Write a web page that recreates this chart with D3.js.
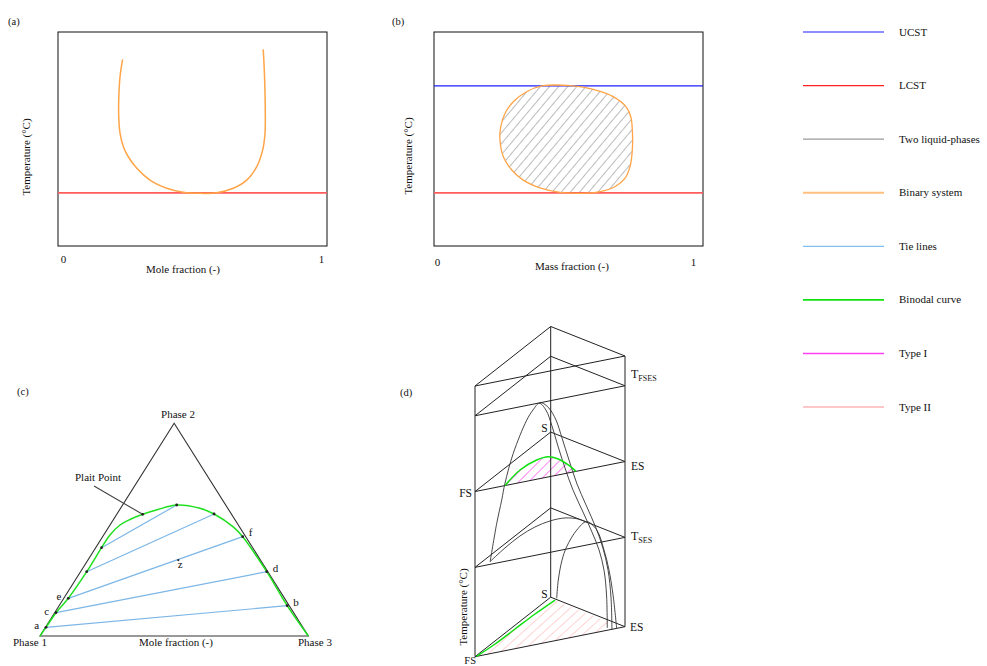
<!DOCTYPE html>
<html><head><meta charset="utf-8">
<script src="https://cdn.jsdelivr.net/npm/d3@7"></script>
<style>
body{margin:0;background:#fff;}
svg{display:block;}
text{font-family:"Liberation Serif","Times New Roman",serif;fill:#111;}
</style>
</head><body>
<svg id="chart" width="987" height="666"></svg>
<script>
// ---------------- DATA ----------------
// (a) binary system with LCST (mole fraction vs temperature)
const tickValues = [0, 1];
const tickLabels = ["0", "1"];
const lcstA = 24.8;
const binaryX = [0.231,0.221,0.216,0.216,0.221,0.234,0.253,0.286,0.337,0.402,0.466,0.531,0.596,0.660,0.712,0.751,0.774,0.783,0.784,0.782,0.779,0.776];
const binaryT = [87.2,79.1,68.2,60.4,52.7,46.4,41.7,36.3,30.8,27.0,25.1,24.6,24.9,27.0,30.8,37.1,44.9,52.7,63.6,76.0,85.4,91.9];

// (b) closed-loop miscibility gap (mass fraction vs temperature)
const ucstB = 74.8;
const lcstB = 24.8;
const loopX = [0.409,0.532,0.610,0.688,0.738,0.757,0.763,0.763,0.754,0.734,0.695,0.637,0.559,0.480,0.402,0.337,0.292,0.259,0.246,0.249,0.266,0.298,0.350];
const loopT = [74.8,74.8,73.2,69.8,65.1,60.4,54.2,44.9,37.1,31.6,27.7,25.4,24.6,25.1,27.2,30.8,35.5,41.7,49.5,55.7,62.0,67.4,72.1];

// legend
const legendLabels = ["UCST","LCST","Two liquid-phases","Binary system","Tie lines","Binodal curve","Type I","Type II"];
const legendColors = ["#1f1fff","#ff2020","#9a9a9a","#ffbf80","#80bdf0","#10e010","#ff40f0","#ffc8c8"];
const legendWidths = [1.2,1.2,1.2,2,1.2,1.6,1.6,2];

// (c) ternary diagram: a = fraction Phase 2, b = fraction Phase 3
const binodalA = [0,0.0409,0.1095,0.1772,0.3023,0.4151,0.4748,0.5219,0.5477,0.5722,0.5947,0.6159,0.6004,0.5736,0.5139,0.4669,0.3023,0.1425,0];
const binodalB = [0,0.002,0.005,0.017,0.023,0.022,0.0235,0.0373,0.0616,0.0967,0.1424,0.2015,0.296,0.362,0.462,0.522,0.694,0.850,1];
const tieLeftA  = [0.0409,0.1095,0.1772,0.3023,0.4151];
const tieLeftB  = [0.002,0.005,0.017,0.023,0.022];
const tieRightA = [0.1425,0.3023,0.4669,0.5736,0.6159];
const tieRightB = [0.850,0.694,0.522,0.362,0.2015];
const tieLeftLabels  = ["a","c","e","",""];
const tieRightLabels = ["b","d","f","",""];
const plaitPoint = [0.5722, 0.0967];
const zPoint = [0.357, 0.337];
const vertexLabels = ["Phase 1","Phase 2","Phase 3"];

// (d) temperature prism: a = fraction S, b = fraction ES, T = temperature
const prismLevelsT = [0, 33, 61, 89, 100];
const levelTSES = 33, levelES = 61, levelTFSES = 89;
const leftBranchB = [0.0,0.044,0.077,0.099,0.154,0.244,0.286,0.328];
const leftBranchT = [30.7,44.4,52.6,58.6,69.0,80.3,83.6,85.6];
const branchAB = [0.328,0.372,0.412,0.452,0.499,0.552,0.619,0.679,0.726,0.759,0.776,0.781];
const branchAT = [85.6,82.6,76.3,68.4,59.8,51.1,42.2,34.1,27.0,19.2,9.8,-2.4];
const branchBB = [0.328,0.344,0.392,0.439,0.479,0.526,0.579,0.639,0.706,0.752,0.786,0.806,0.812];
const branchBT = [85.6,85.6,83.1,78.2,71.1,62.4,53.0,44.6,35.3,27.4,18.9,8.4,-3.5];
const parabolaDepth = 0.2;
const archB = [0.0905,0.101,0.126,0.157,0.224,0.290,0.357,0.406,0.439,0.466,0.490];
const archT = [0.8,7.4,14.5,19.1,24.5,26.9,23.1,15.1,7.4,-2.1,-14.6];
const archDepth = 0.9;
const tsesCurveA = [0.061,0.302,0.505,0.640,0.708,0.708,0.627,0.520];
const tsesCurveB = [0.069,0.047,0.045,0.077,0.143,0.243,0.370,0.482];
const typeIA = [0,0.284,0.434,0.456,0.359,0.179,0];
const typeIB = [0.2,0.157,0.192,0.259,0.374,0.532,0.673];
const typeIIA = [0,0.196,0.444,0.692,0.917];
const typeIIB = [0.01,0.035,0.043,0.051,0.071];
const typeIIEdgeA = [0.189, 0];
const typeIIEdgeB = [0.791, 0.887];

// ---------------- DRAWING ----------------
const svg = d3.select("#chart");
const defs = svg.append("defs");
function hatch(id, color, size, angle, w){
  const p = defs.append("pattern").attr("id", id).attr("patternUnits","userSpaceOnUse")
    .attr("width", size).attr("height", size).attr("patternTransform", `rotate(${angle})`);
  p.append("line").attr("x1",0).attr("y1",0).attr("x2",0).attr("y2",size)
    .attr("stroke", color).attr("stroke-width", w);
}
hatch("hGray", "#7a7a7a", 7, 40, 1);
hatch("hMag", "#ff30f0", 7, 45, 1.2);
hatch("hPink", "#ffa8a8", 7, 48, 1);

const zip = (xs, ys) => xs.map((x, i) => [x, ys[i]]);

function panelLabel(txt, x, y){
  svg.append("text").attr("x", x).attr("y", y).attr("font-size", 10.5).text(txt);
}

// ---- panel (a)
{
  const x = d3.scaleLinear().domain([0,1]).range([63,321]);
  const y = d3.scaleLinear().domain([0,100]).range([246,32]);
  panelLabel("(a)", 8, 25);
  svg.append("rect").attr("x",58).attr("y",32).attr("width",269).attr("height",214)
    .attr("fill","none").attr("stroke","#111").attr("stroke-width",1);
  svg.append("line").attr("x1",58).attr("x2",327).attr("y1",y(lcstA)).attr("y2",y(lcstA))
    .attr("stroke","#ff5c5c").attr("stroke-width",1.8);
  svg.append("path").datum(zip(binaryX, binaryT))
    .attr("d", d3.line().x(d=>x(d[0])).y(d=>y(d[1])).curve(d3.curveCatmullRom))
    .attr("fill","none").attr("stroke","#ffa447").attr("stroke-width",1.5);
  const ax = svg.append("g").attr("transform","translate(0,252)")
    .call(d3.axisBottom(x).tickValues(tickValues).tickFormat((d,i)=>tickLabels[i]).tickSize(0));
  ax.select(".domain").remove();
  ax.selectAll("text").attr("font-size",11).attr("font-family","Liberation Serif").attr("fill","#111");
  svg.append("text").attr("x",183).attr("y",273).attr("text-anchor","middle").attr("font-size",11).text("Mole fraction (-)");
  svg.append("text").attr("transform","translate(30,157) rotate(-90)").attr("text-anchor","middle").attr("font-size",11).text("Temperature (°C)");
}

// ---- panel (b)
{
  const x = d3.scaleLinear().domain([0,1]).range([437,693]);
  const y = d3.scaleLinear().domain([0,100]).range([246,32]);
  panelLabel("(b)", 392, 25);
  svg.append("rect").attr("x",434).attr("y",32).attr("width",269).attr("height",214)
    .attr("fill","none").attr("stroke","#111").attr("stroke-width",1);
  const loop = zip(loopX, loopT);
  svg.append("path").datum(loop)
    .attr("d", d3.line().x(d=>x(d[0])).y(d=>y(d[1])).curve(d3.curveCatmullRomClosed))
    .attr("fill","url(#hGray)").attr("stroke","none");
  svg.append("line").attr("x1",434).attr("x2",703).attr("y1",y(ucstB)).attr("y2",y(ucstB))
    .attr("stroke","#1f1fff").attr("stroke-width",1.2);
  svg.append("line").attr("x1",434).attr("x2",703).attr("y1",y(lcstB)).attr("y2",y(lcstB))
    .attr("stroke","#ff5c5c").attr("stroke-width",1.8);
  svg.append("path").datum(loop)
    .attr("d", d3.line().x(d=>x(d[0])).y(d=>y(d[1])).curve(d3.curveCatmullRomClosed))
    .attr("fill","none").attr("stroke","#ffa447").attr("stroke-width",1.3);
  const ax = svg.append("g").attr("transform","translate(0,255)")
    .call(d3.axisBottom(x).tickValues(tickValues).tickFormat((d,i)=>tickLabels[i]).tickSize(0));
  ax.select(".domain").remove();
  ax.selectAll("text").attr("font-size",11).attr("font-family","Liberation Serif").attr("fill","#111");
  svg.append("text").attr("x",572).attr("y",270).attr("text-anchor","middle").attr("font-size",11).text("Mass fraction (-)");
  svg.append("text").attr("transform","translate(412,156) rotate(-90)").attr("text-anchor","middle").attr("font-size",11).text("Temperature (°C)");
}

// ---- legend
{
  const ly = d3.scaleLinear().domain([0, legendLabels.length-1]).range([32, 407]);
  const g = svg.append("g");
  legendLabels.forEach((lab, i) => {
    g.append("line").attr("x1",803).attr("x2",884).attr("y1",ly(i)).attr("y2",ly(i))
      .attr("stroke", legendColors[i]).attr("stroke-width", legendWidths[i]);
    g.append("text").attr("x",899).attr("y",ly(i)+3.5).attr("font-size",11).text(lab);
  });
}

// ---- panel (c) ternary
{
  const tX = d3.scaleLinear().domain([0,1]).range([40,308.3]);
  const tY = d3.scaleLinear().domain([0,1]).range([636,423.3]);
  const tern = (a, b) => [tX(b + a/2), tY(a)];
  panelLabel("(c)", 17, 395);
  const verts = [tern(0,0), tern(1,0), tern(0,1)];
  svg.append("path").attr("d", d3.line()(verts) + "Z")
    .attr("fill","none").attr("stroke","#333").attr("stroke-width",1.1);
  // tie lines
  tieLeftA.forEach((_, i) => {
    const p = tern(tieLeftA[i], tieLeftB[i]), q = tern(tieRightA[i], tieRightB[i]);
    svg.append("line").attr("x1",p[0]).attr("y1",p[1]).attr("x2",q[0]).attr("y2",q[1])
      .attr("stroke","#7cb6e6").attr("stroke-width",1.2);
  });
  // binodal
  svg.append("path").datum(zip(binodalA, binodalB).map(d => tern(d[0], d[1])))
    .attr("d", d3.line().curve(d3.curveCatmullRom))
    .attr("fill","none").attr("stroke","#1fe01f").attr("stroke-width",1.5);
  // plait point leader
  const pp = tern(plaitPoint[0], plaitPoint[1]);
  svg.append("line").attr("x1",94).attr("y1",486).attr("x2",pp[0]-1).attr("y2",pp[1]-0.5)
    .attr("stroke","#444").attr("stroke-width",1.1);
  svg.append("text").attr("x",75).attr("y",481).attr("font-size",11).text("Plait Point");
  // dots
  const dots = [...tieLeftA.map((a,i)=>tern(a,tieLeftB[i])), ...tieRightA.map((a,i)=>tern(a,tieRightB[i])), pp];
  dots.forEach(d => svg.append("circle").attr("cx",d[0]).attr("cy",d[1]).attr("r",1.4).attr("fill","#222"));
  const zp = tern(zPoint[0], zPoint[1]);
  svg.append("circle").attr("cx",zp[0]).attr("cy",zp[1]).attr("r",1.1).attr("fill","#222");
  svg.append("text").attr("x",zp[0]+2).attr("y",zp[1]+8).attr("text-anchor","middle").attr("font-size",11).text("z");
  tieLeftLabels.forEach((lab, i) => {
    if(!lab) return;
    const p = tern(tieLeftA[i], tieLeftB[i]);
    svg.append("text").attr("x",p[0]-7).attr("y",p[1]+2).attr("text-anchor","end").attr("font-size",11).text(lab);
  });
  tieRightLabels.forEach((lab, i) => {
    if(!lab) return;
    const p = tern(tieRightA[i], tieRightB[i]);
    svg.append("text").attr("x",p[0]+6).attr("y",p[1]+(i===2?-1:0)).attr("font-size",11).text(lab);
  });
  svg.append("text").attr("x",13).attr("y",646).attr("font-size",11).text(vertexLabels[0]);
  svg.append("text").attr("x",178).attr("y",418).attr("text-anchor","middle").attr("font-size",11).text(vertexLabels[1]);
  svg.append("text").attr("x",298).attr("y",646).attr("font-size",11).text(vertexLabels[2]);
  svg.append("text").attr("x",176).attr("y",646).attr("text-anchor","middle").attr("font-size",11).text("Mole fraction (-)");
}

// ---- panel (d) prism
{
  const yT = d3.scaleLinear().domain([0,100]).range([656.7,386]);
  const sx = d3.scaleLinear().domain([0,1]).range([0,75.7]);   // S direction (x)
  const sy = d3.scaleLinear().domain([0,1]).range([0,-59.5]);  // S direction (y)
  const ex = d3.scaleLinear().domain([0,1]).range([0,150]);    // ES direction (x)
  const ey = d3.scaleLinear().domain([0,1]).range([0,-30]);    // ES direction (y)
  const proj = (a, b, T) => [475 + sx(a) + ex(b), yT(T) + sy(a) + ey(b)];
  const line = d3.line();
  const smooth = d3.line().curve(d3.curveCatmullRom);
  const g = svg.append("g");
  panelLabel("(d)", 400, 396);

  // hatched regions
  const typeIPts = zip(typeIA, typeIB).map(d => proj(d[0], d[1], levelES));
  g.append("path").attr("d", smooth(typeIPts) + "Z").attr("fill","url(#hMag)").attr("stroke","none");
  const typeIIPts = zip(typeIIA, typeIIB).map(d => proj(d[0], d[1], 0));
  const edgePts = zip(typeIIEdgeA, typeIIEdgeB).map(d => proj(d[0], d[1], 0));
  g.append("path").attr("d", line([...typeIIPts, ...edgePts]) + "Z").attr("fill","url(#hPink)").attr("stroke","none");

  // prism levels
  prismLevelsT.forEach(T => {
    const v = [proj(0,0,T), proj(1,0,T), proj(0,1,T)];
    g.append("path").attr("d", line(v) + "Z").attr("fill","none").attr("stroke","#222").attr("stroke-width",1);
  });
  // vertical edges
  [[0,0],[1,0],[0,1]].forEach(([a,b]) => {
    g.append("path").attr("d", line([proj(a,b,0), proj(a,b,100)])).attr("fill","none").attr("stroke","#222").attr("stroke-width",1);
  });

  // curves
  const curveStyle = sel => sel.attr("fill","none").attr("stroke","#333").attr("stroke-width",0.9);
  const parab = [...zip(leftBranchB, leftBranchT), ...zip(branchAB, branchAT).slice(1)].map(d => proj(parabolaDepth, d[0], d[1]));
  curveStyle(g.append("path").attr("d", smooth(parab)));
  curveStyle(g.append("path").attr("d", smooth(zip(branchBB, branchBT).map(d => proj(parabolaDepth, d[0], d[1])))));
  curveStyle(g.append("path").attr("d", smooth(zip(archB, archT).map(d => proj(archDepth, d[0], d[1])))));
  curveStyle(g.append("path").attr("d", smooth(zip(tsesCurveA, tsesCurveB).map(d => proj(d[0], d[1], levelTSES)))));

  // binodal curves (green)
  g.append("path").attr("d", smooth(typeIPts)).attr("fill","none").attr("stroke","#10e010").attr("stroke-width",1.5);
  g.append("path").attr("d", smooth(typeIIPts)).attr("fill","none").attr("stroke","#10e010").attr("stroke-width",1.5);

  // labels
  const txt = (x, y, s, anchor, size) => g.append("text").attr("x",x).attr("y",y).attr("text-anchor",anchor||"start").attr("font-size",size||11.5).text(s);
  const esF = proj(0,1,levelTFSES);
  const tf = g.append("text").attr("x",esF[0]+6).attr("y",esF[1]-8).attr("font-size",12);
  tf.append("tspan").text("T");
  tf.append("tspan").attr("font-size",8).attr("dy",3).text("FSES");
  const esS = proj(0,1,levelTSES);
  const ts = g.append("text").attr("x",esS[0]+6).attr("y",esS[1]+3).attr("font-size",12);
  ts.append("tspan").text("T");
  ts.append("tspan").attr("font-size",8).attr("dy",3).text("SES");
  const esE = proj(0,1,levelES);  txt(esE[0]+6, esE[1]+8, "ES");
  const sE = proj(1,0,levelES);   txt(sE[0]-3, sE[1], "S", "end");
  const fsE = proj(0,0,levelES);  txt(fsE[0]-3, fsE[1]+5, "FS", "end");
  const es0 = proj(0,1,0);  txt(es0[0]+5, es0[1]+4.5, "ES");
  const s0 = proj(1,0,0);   txt(s0[0]-3, s0[1]+1, "S", "end");
  const fs0 = proj(0,0,0);  txt(fs0[0]+1, fs0[1]+7.5, "FS", "end", 10.5);
  g.append("text").attr("transform","translate(467,607) rotate(-90)").attr("text-anchor","middle").attr("font-size",11).text("Temperature (°C)");
}
</script>
</body></html>
